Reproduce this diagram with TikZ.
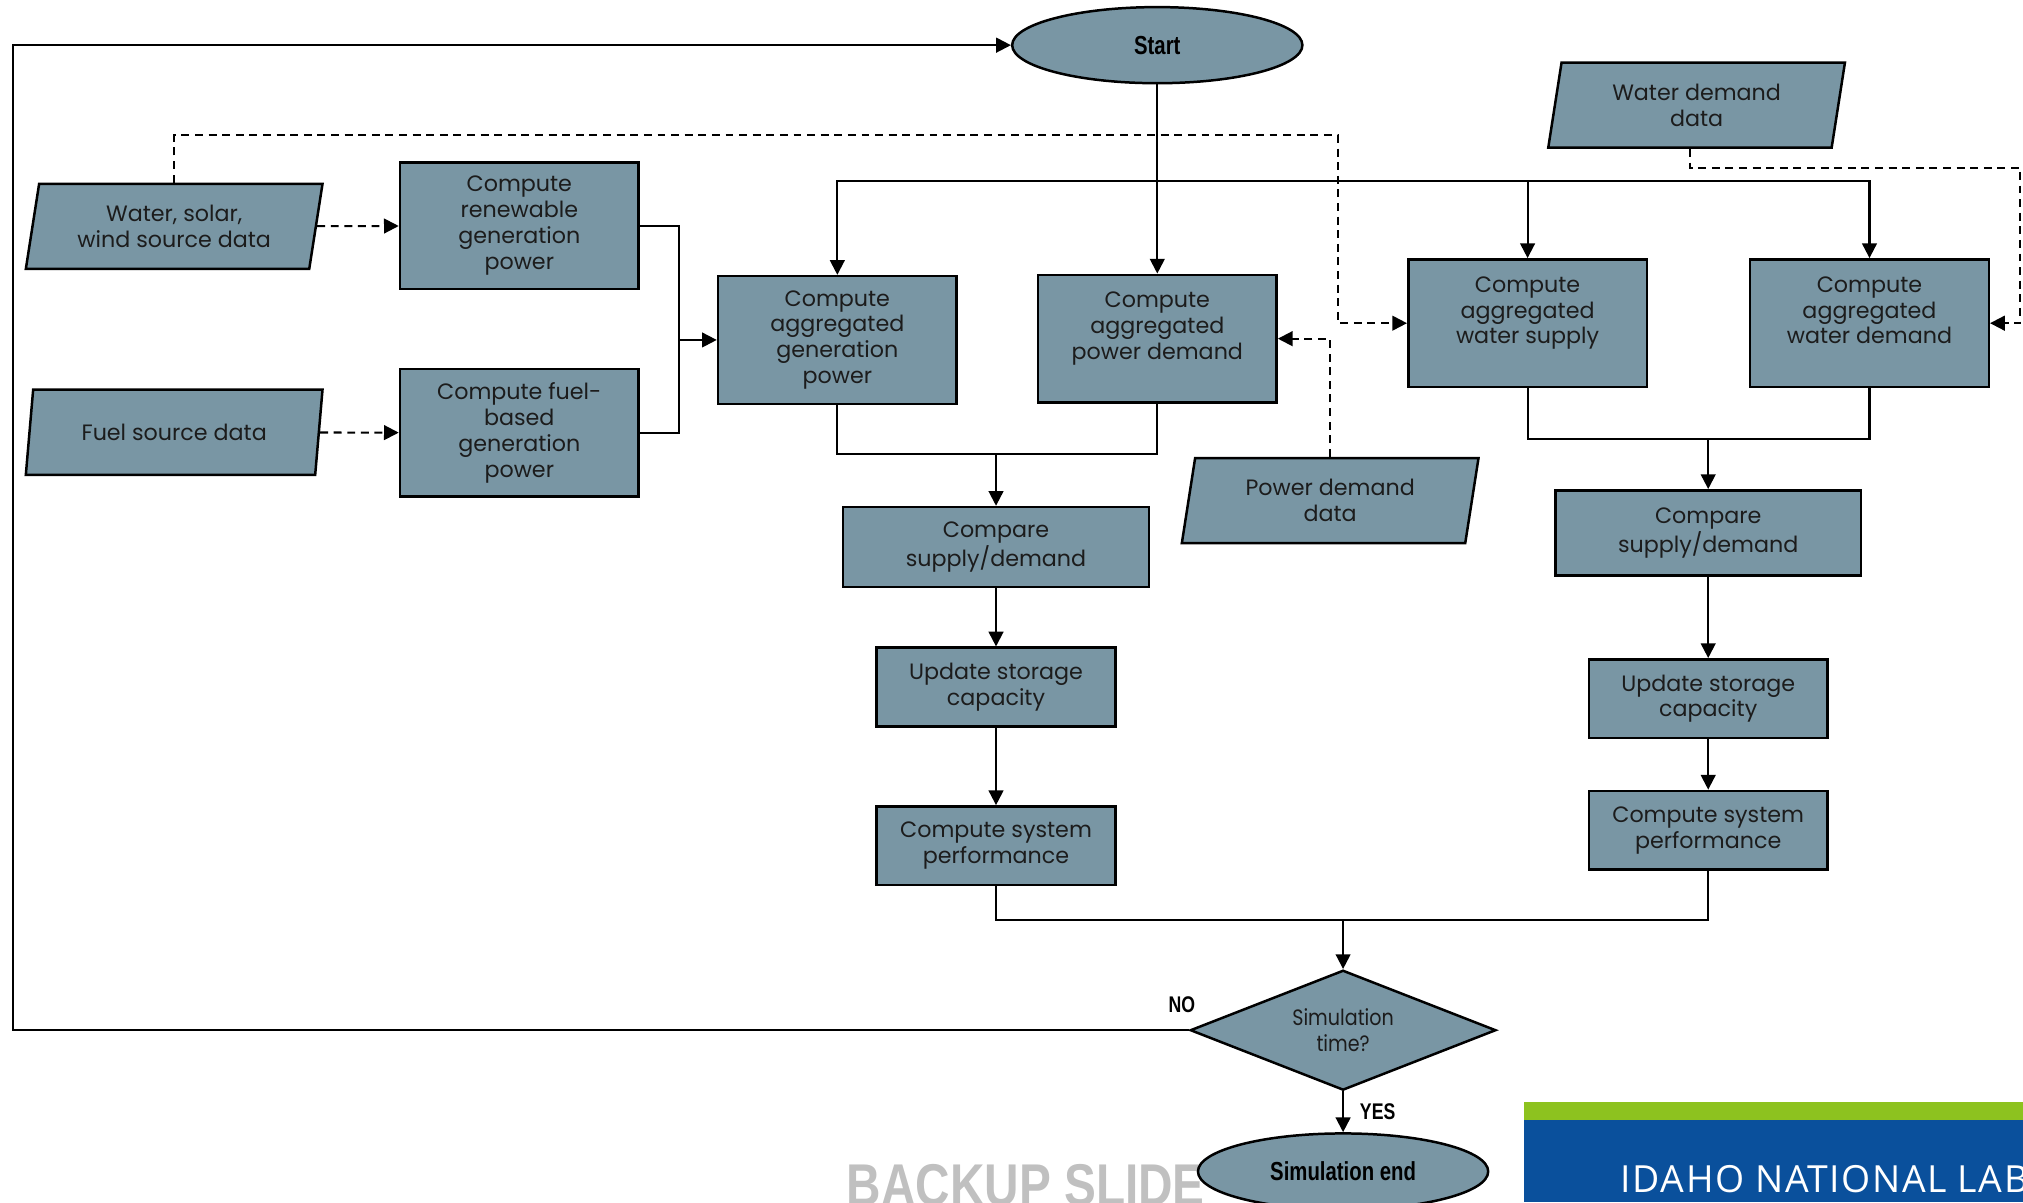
\documentclass[tikz,border=0pt]{standalone}
\usepackage{fontspec}
\setmainfont{Poppins}
\newfontfamily\narrowfont[FakeStretch=0.78]{Liberation Sans}
\newfontfamily\wideboldfont[FakeStretch=0.81]{Liberation Sans}
\newfontfamily\condfont[FakeStretch=0.86]{Poppins}
\newfontfamily\bannerfont[LetterSpace=4]{Open Sans}
\usepackage{tikz}
\usetikzlibrary{positioning, arrows.meta, shapes.geometric}
\definecolor{boxfill}{RGB}{121, 150, 164}
\definecolor{boxtext}{RGB}{28, 28, 28}
\definecolor{inlgreen}{RGB}{141, 194, 31}
\definecolor{inlblue}{RGB}{10, 80, 156}
\definecolor{backupgray}{RGB}{192, 192, 192}

\begin{document}
\begin{tikzpicture}[x=0.02cm, y=-0.02cm, font=\fontsize{9.8}{11.4}\selectfont,
    process/.style={rectangle, draw=black, line width=1.1pt, fill=boxfill, text=boxtext,
      align=center, inner sep=2pt, minimum width=3.7cm},
    dataio/.style={trapezium, trapezium left angle=77, trapezium right angle=103,
      trapezium stretches body, draw=black, line width=1.1pt, fill=boxfill, text=boxtext,
      align=center, minimum width=4.6cm, minimum height=1.32cm},
    terminal/.style={ellipse, draw=black, line width=1.1pt, fill=boxfill, text=black,
      minimum width=4.5cm, minimum height=1.18cm, font=\narrowfont\bfseries\fontsize{11.5}{12}\selectfont},
    decision/.style={diamond, aspect=2.55, draw=black, line width=1.1pt, fill=boxfill, text=boxtext,
      align=center, minimum width=4.74cm, minimum height=1.86cm, inner sep=0pt,
      font=\condfont\fontsize{9.8}{11.4}\selectfont},
    tag/.style={font=\narrowfont\bfseries\fontsize{10}{12}\selectfont, inner sep=1pt},
    link/.style={line width=0.9pt},
    flow/.style={link, -{Triangle[length=6.5pt, width=6.5pt]}},
    dataflow/.style={flow, dash pattern=on 3.5pt off 2.5pt}]

  \useasboundingbox (0,0) rectangle (1568,932);
  \clip (0,0) rectangle (1568,932);

  % --- Start and data sources ---
  \node[terminal] (start) at (897,35) {Start};
  \node[dataio] (wss) at (135,175.5) {Water, solar,\\wind source data};
  \node[dataio] (fsd) at (135,335) {Fuel source data};
  \node[dataio] (wdd) at (1315,81.5) {Water demand\\data};
  \node[dataio] (pdd) at (1031,388) {Power demand\\data};

  % --- Power branch ---
  \node[process, minimum height=1.96cm] (ren) at (402.5,175) {Compute\\renewable\\generation\\power};
  \node[process, minimum height=1.98cm] (fuelgen) at (402.5,335.5) {Compute fuel-\\based\\generation\\power};
  \node[process, minimum height=1.98cm] (gen) at (649,263.5) {Compute\\aggregated\\generation\\power};
  \node[process, minimum height=1.98cm] (pdem) at (897,262.5) {Compute\\aggregated\\power demand\\\mbox{}};
  \node[process, minimum width=4.74cm, minimum height=1.24cm] (cmp1) at (772,424) {Compare\\supply/demand};
  \node[process, minimum height=1.22cm] (upd1) at (772,532.5) {Update storage\\capacity};
  \node[process, minimum height=1.22cm] (perf1) at (772,655.5) {Compute system\\performance};

  % --- Water branch ---
  \node[process, minimum height=1.98cm] (wsup) at (1184,250.5) {Compute\\aggregated\\water supply\\\mbox{}};
  \node[process, minimum height=1.98cm] (wdem) at (1449,250.5) {Compute\\aggregated\\water demand\\\mbox{}};
  \node[process, minimum width=4.74cm, minimum height=1.32cm] (cmp2) at (1324,413) {Compare\\supply/demand};
  \node[process, minimum height=1.22cm] (upd2) at (1324,541.5) {Update storage\\capacity};
  \node[process, minimum height=1.22cm] (perf2) at (1324,643.5) {Compute system\\performance};

  % --- End of time step ---
  \node[decision] (sim) at (1041,798.5) {Simulation\\time?};
  \node[anchor=base west, inner sep=0pt, text=backupgray,
    font=\wideboldfont\bfseries\fontsize{26}{26}\selectfont] (backup) at (656,934) {BACKUP SLIDE};
  \node[terminal] (simend) at (1041,908) {Simulation end};

  % Banner
  \fill[inlgreen] (1181,854) rectangle (1568,868);
  \fill[inlblue] (1181,868) rectangle (1568,932);
  \node[anchor=base west, inner sep=0pt, text=white, font=\bannerfont\fontsize{16.5}{18}\selectfont]
    (inl) at (1256,924) {IDAHO NATIONAL LAB};

  % --- Connectors ---
  \coordinate (branch) at (897,140);
  \draw[flow] (start) -- (pdem);
  \draw[flow] (branch) -| (gen);
  \draw[flow] (branch) -| (wsup);
  \draw[flow] (branch) -| (wdem);

  \draw[dataflow] (wss) -- (ren);
  \draw[dataflow] (fsd) -- (fuelgen);
  \coordinate (genjoin) at (526,263.5);
  \draw[link] (ren.east) -| (genjoin);
  \draw[link] (fuelgen.east) -| (genjoin);
  \draw[flow] (genjoin) -- (gen);

  \coordinate (wssbend) at (1037,105);
  \draw[dataflow] (wss.north) |- (wssbend) |- (wsup.west);
  \coordinate (wddbend) at (1566,130);
  \draw[dataflow] (wdd.bottom side) |- (wddbend) |- (wdem.east);
  \draw[dataflow] (pdd.north) |- (pdem.east);

  \coordinate (pjoin) at (772,352);
  \draw[link] (gen.south) |- (pjoin) -| (pdem.south);
  \draw[flow] (pjoin) -- (cmp1);
  \draw[flow] (cmp1) -- (upd1);
  \draw[flow] (upd1) -- (perf1);

  \coordinate (wjoin) at (1324,340);
  \draw[link] (wsup.south) |- (wjoin) -| (wdem.south);
  \draw[flow] (wjoin) -- (cmp2);
  \draw[flow] (cmp2) -- (upd2);
  \draw[flow] (upd2) -- (perf2);

  \coordinate (perfjoin) at (1041,713);
  \draw[link] (perf1.south) |- (perfjoin) -| (perf2.south);
  \draw[flow] (perfjoin) -- (sim);

  % Loop back / finish
  \coordinate (loopleft) at (10,36.5);
  \draw[flow] (sim.west) -| (loopleft) |- (start.west);
  \node[tag, anchor=south] (no) at (916,787) {NO};
  \draw[flow] (sim) -- (simend) node[tag, midway, right=6pt] (yes) {YES};

\end{tikzpicture}
\end{document}
